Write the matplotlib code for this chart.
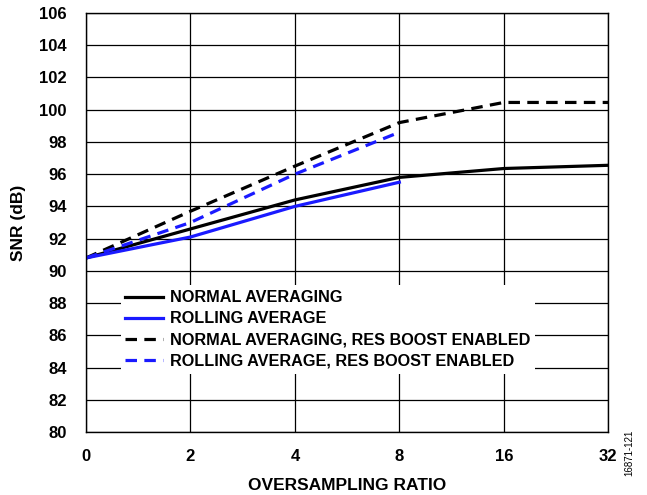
import numpy as np
import matplotlib as mpl
mpl.use('Agg')
import matplotlib.pyplot as plt

plt.rcParams['font.family'] = ['Liberation Sans', 'DejaVu Sans']
plt.rcParams['font.weight'] = 'bold'

# oversampling ratios, plotted at equal spacing
osr_labels = ['0', '2', '4', '8', '16', '32']
pos = np.arange(len(osr_labels))

normal_avg = [90.8, 92.6, 94.4, 95.8, 96.35, 96.55]
rolling_avg = [90.8, 92.1, 94.0, 95.5]
normal_boost = [90.8, 93.7, 96.5, 99.2, 100.45, 100.45]
rolling_boost = [90.8, 93.0, 96.0, 98.6]

blue = '#1a1aff'
dash = (0, (3.6, 2.3))
lw = 2.3

fig = plt.figure(figsize=(6.47, 4.95), dpi=100)
ax = fig.add_axes([0.133, 0.1273, 0.807, 0.8464])

ax.plot(pos, normal_avg, color='black', lw=lw, label='NORMAL AVERAGING')
ax.plot(pos[:4], rolling_avg, color=blue, lw=lw, label='ROLLING AVERAGE')
ax.plot(pos, normal_boost, color='black', lw=lw, linestyle=dash,
        label='NORMAL AVERAGING, RES BOOST ENABLED')
ax.plot(pos[:4], rolling_boost, color=blue, lw=lw, linestyle=dash,
        label='ROLLING AVERAGE, RES BOOST ENABLED')

ax.set_xlim(0, 5)
ax.set_ylim(80, 106)
ax.set_xticks(pos)
ax.set_xticklabels(osr_labels)
ax.set_yticks(np.arange(80, 107, 2))
ax.tick_params(length=0, labelsize=12)
ax.tick_params(axis='y', pad=14)
ax.tick_params(axis='x', pad=12)
ax.grid(True, color='black', lw=0.9)
ax.set_axisbelow(True)
for s in ax.spines.values():
    s.set_linewidth(1.0)

ax.set_xlabel('OVERSAMPLING RATIO', fontsize=12.5, fontweight='bold', labelpad=10)
ax.set_ylabel('SNR (dB)', fontsize=12.5, fontweight='bold', labelpad=9)

leg = ax.legend(loc='upper left', bbox_to_anchor=(0.066, 0.35), frameon=True,
                fontsize=11.7, handlelength=2.3, handletextpad=0.45,
                labelspacing=0.38, borderpad=0.3, borderaxespad=0,
                fancybox=False, framealpha=1)
leg.get_frame().set_edgecolor('white')
leg.get_frame().set_linewidth(0)

fig.text(0.972, 0.085, '16871-121', rotation=90, fontsize=7, fontweight='normal',
         ha='center', va='center')

plt.savefig('out.png', dpi=100)
